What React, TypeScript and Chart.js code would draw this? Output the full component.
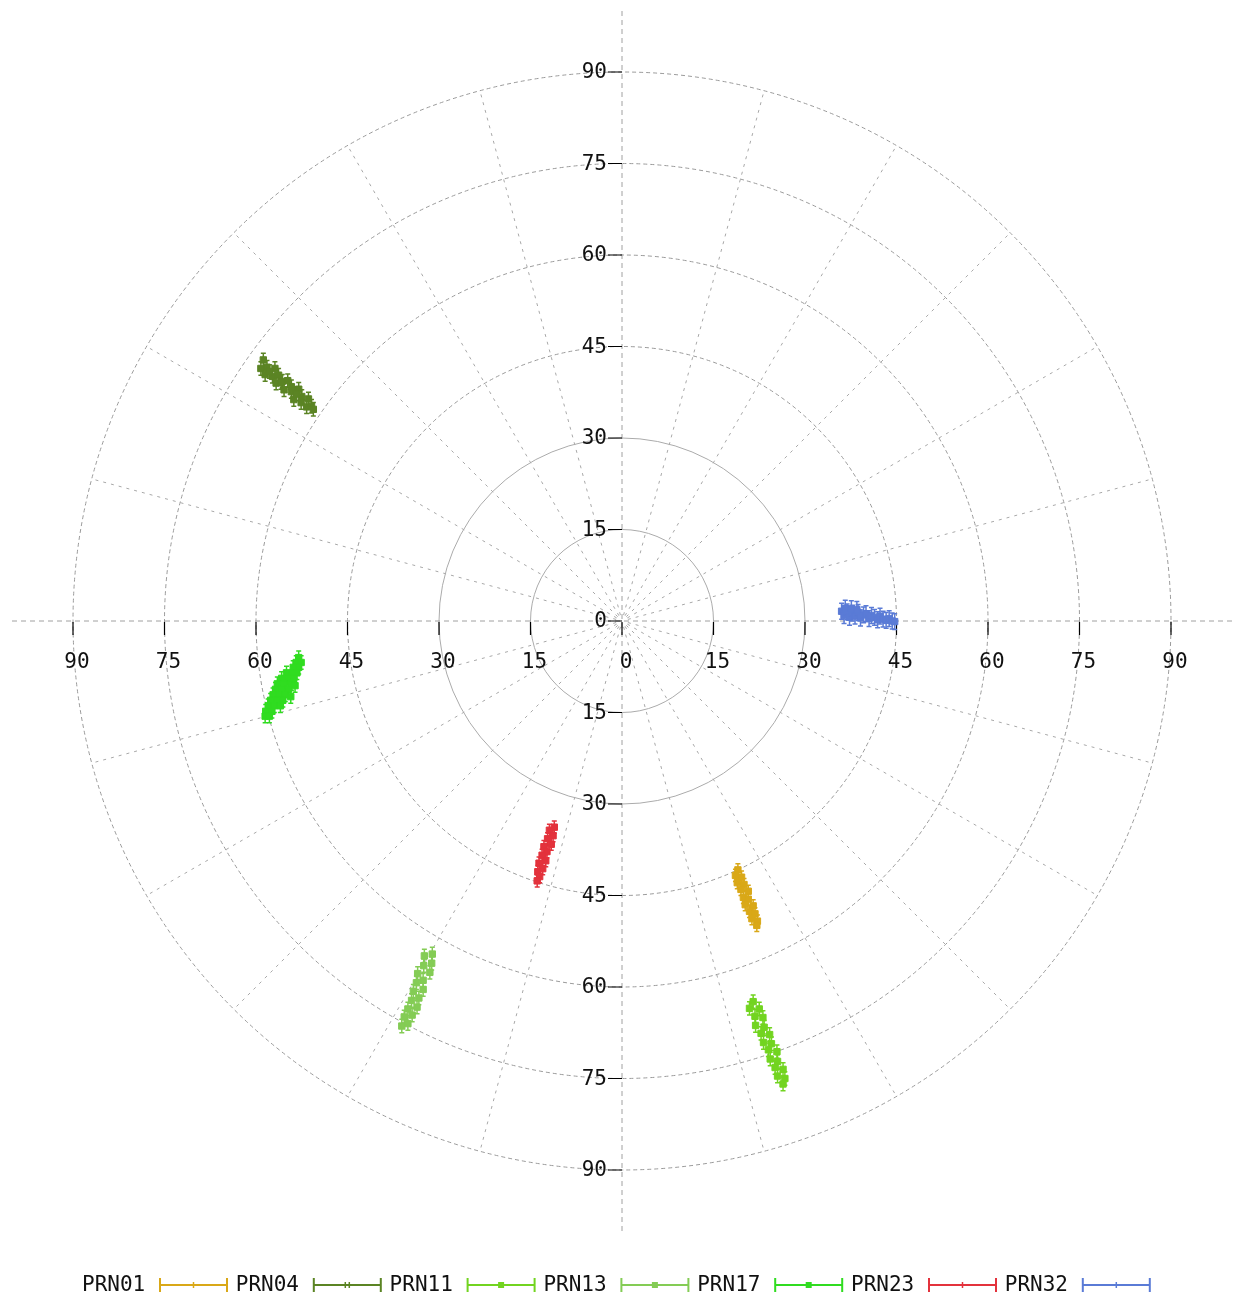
import React, { useEffect, useRef } from "react";
import { Chart, registerables } from "chart.js";

Chart.register(...registerables);

// ---- series meta ----
const seriesNames = ["PRN01", "PRN04", "PRN11", "PRN13", "PRN17", "PRN23", "PRN32"];
const seriesColors = ["#d9a818", "#5b8424", "#72d420", "#84cc55", "#30dc20", "#e3323c", "#5a7bd6"];
const seriesErr = [1.0, 1.1, 1.1, 1.1, 1.1, 1.0, 1.3];
const legendMarks = ["tick", "dtick", "square", "square", "square", "tick", "tick"];

// ---- data (x = east/west, y = north/south, in plot units) ----
const prn01X = [19.0, 18.6, 19.6, 18.9, 20.0, 19.5, 20.7, 19.9, 20.7, 20.2, 21.5, 20.9, 21.8, 21.3, 22.2, 22.1];
const prn01Y = [-40.8, -41.7, -42.0, -42.9, -43.2, -44.0, -44.3, -45.3, -45.6, -46.5, -46.7, -47.6, -48.0, -48.8, -49.2, -49.9];

const prn04X = [-58.8, -59.2, -58.2, -58.5, -56.9, -57.3, -56.3, -56.7, -55.7, -54.8, -55.4, -54.2, -54.2, -53.0, -53.8, -52.5, -52.6, -51.4, -51.7, -50.9, -50.6, -57.8, -55.9, -53.4];
const prn04Y = [42.8, 41.4, 41.6, 40.4, 41.4, 40.1, 40.3, 39.0, 39.3, 39.4, 37.9, 38.4, 37.6, 38.0, 36.3, 36.8, 35.8, 36.4, 35.1, 35.2, 34.7, 40.9, 39.1, 37.2];

const prn11X = [21.5, 20.9, 22.5, 21.8, 23.1, 21.9, 23.3, 22.8, 24.2, 23.2, 24.5, 24.0, 25.4, 24.3, 25.5, 25.1, 26.4, 25.5, 26.7, 26.4];
const prn11Y = [-62.4, -63.5, -63.6, -64.8, -65.0, -66.3, -66.6, -67.6, -67.8, -69.1, -69.3, -70.3, -70.6, -71.8, -72.2, -73.2, -73.5, -74.6, -75.0, -75.9];

const prn13X = [-31.1, -32.4, -31.2, -32.5, -31.5, -33.5, -32.6, -33.7, -32.6, -34.2, -33.3, -34.5, -33.6, -35.1, -34.4, -35.7, -35.1, -36.1];
const prn13Y = [-54.6, -54.9, -56.1, -56.5, -57.6, -57.8, -58.9, -59.3, -60.4, -60.7, -61.8, -62.2, -63.3, -63.6, -64.6, -64.9, -66.0, -66.4];

const prn17X = [-53.0, -53.4, -52.6, -53.9, -53.0, -55.0, -54.0, -53.3, -55.8, -54.8, -53.8, -56.5, -55.4, -54.2, -56.8, -55.8, -54.7, -57.2, -56.2, -55.2, -57.6, -56.6, -55.6, -58.0, -57.0, -56.0, -58.4, -57.4, -58.5, -57.8, -53.6, -54.3];
const prn17Y = [-6.0, -6.8, -6.8, -7.6, -7.6, -8.5, -8.5, -8.5, -9.4, -9.4, -9.4, -10.3, -10.3, -10.3, -11.2, -11.2, -11.2, -12.1, -12.1, -12.1, -13.0, -13.0, -13.0, -13.9, -13.9, -13.9, -14.8, -14.8, -15.6, -15.6, -10.6, -12.4];

const prn23X = [-11.1, -11.9, -11.3, -12.2, -11.6, -12.8, -12.3, -13.1, -12.5, -13.6, -13.0, -13.8, -13.5, -13.9];
const prn23Y = [-33.8, -34.3, -35.2, -35.7, -36.6, -37.0, -37.8, -38.4, -39.3, -39.7, -40.6, -41.1, -41.9, -42.6];

const prn32X = [36.0, 36.4, 36.9, 37.3, 37.8, 38.2, 38.7, 39.1, 39.6, 40.0, 40.5, 40.9, 41.4, 41.9, 42.3, 42.8, 43.3, 43.8, 44.3, 44.7, 36.6, 37.6, 38.5];
const prn32Y = [1.6, 0.9, 1.5, 0.6, 1.3, 0.8, 1.4, 0.5, 1.0, 1.2, 0.4, 0.9, 0.6, 0.2, 0.8, 0.3, 0.1, 0.4, 0.0, -0.1, 2.1, 2.0, 1.9];

const seriesX = [prn01X, prn04X, prn11X, prn13X, prn17X, prn23X, prn32X];
const seriesY = [prn01Y, prn04Y, prn11Y, prn13Y, prn17Y, prn23Y, prn32Y];

// ---- grid / ticks ----
const ringValues = [15, 30, 45, 60, 75, 90];
const axisTickValues = [-90, -75, -60, -45, -30, -15, 0, 15, 30, 45, 60, 75, 90];
const axisTickLabels = ["90", "75", "60", "45", "30", "15", "0", "15", "30", "45", "60", "75", "90"];
const spokeAngles = [15, 30, 45, 60, 75, 105, 120, 135, 150, 165, 195, 210, 225, 240, 255, 285, 300, 315, 330, 345];

const FONT = "21px 'DejaVu Sans Mono'";

const polarPlugin = {
  id: "polarPlugin",
  beforeDatasetsDraw(chart: any) {
    const { ctx, chartArea } = chart;
    const xs = chart.scales.x;
    const ys = chart.scales.y;
    const cx = xs.getPixelForValue(0);
    const cy = ys.getPixelForValue(0);
    const rpx = (v: number) => xs.getPixelForValue(v) - cx;
    const rMax = rpx(ringValues[ringValues.length - 1]);
    ctx.save();

    // spokes
    ctx.strokeStyle = "#a8a8a8";
    ctx.lineWidth = 1;
    ctx.setLineDash([3, 5]);
    spokeAngles.forEach((a) => {
      const t = (a * Math.PI) / 180;
      const r0 = rpx(1);
      ctx.beginPath();
      ctx.moveTo(cx + r0 * Math.cos(t), cy - r0 * Math.sin(t));
      ctx.lineTo(cx + rMax * Math.cos(t), cy - rMax * Math.sin(t));
      ctx.stroke();
    });

    // rings
    ringValues.forEach((v) => {
      ctx.strokeStyle = v <= 30 ? "#ababab" : "#9a9a9a";
      ctx.setLineDash(v <= 30 ? [] : [4, 3]);
      ctx.beginPath();
      ctx.arc(cx, cy, rpx(v), 0, Math.PI * 2);
      ctx.stroke();
    });

    // axes
    ctx.strokeStyle = "#a0a0a0";
    ctx.setLineDash([5, 4]);
    ctx.beginPath();
    ctx.moveTo(chartArea.left, cy);
    ctx.lineTo(chartArea.right, cy);
    ctx.moveTo(cx, chartArea.top);
    ctx.lineTo(cx, chartArea.bottom);
    ctx.stroke();

    // ticks
    ctx.setLineDash([]);
    ctx.strokeStyle = "#000";
    ctx.lineWidth = 1.2;
    axisTickValues.forEach((v) => {
      const px = xs.getPixelForValue(v);
      const py = ys.getPixelForValue(v);
      ctx.beginPath();
      ctx.moveTo(px, cy + 1);
      ctx.lineTo(px, cy + 14);
      ctx.moveTo(cx - 14, py);
      ctx.lineTo(cx, py);
      ctx.stroke();
    });

    // tick labels
    ctx.font = FONT;
    ctx.fillStyle = "#111";
    ctx.textBaseline = "middle";
    axisTickValues.forEach((v, i) => {
      const px = xs.getPixelForValue(v);
      const py = ys.getPixelForValue(-v);
      ctx.textAlign = "center";
      ctx.fillText(axisTickLabels[i], px + 4, cy + 42);
      ctx.textAlign = "right";
      ctx.fillText(axisTickLabels[i], cx - 15, py + 1);
    });

    // error bars
    chart.data.datasets.forEach((ds: any, i: number) => {
      ctx.strokeStyle = seriesColors[i];
      ctx.lineWidth = 1.5;
      const e = seriesErr[i];
      ds.data.forEach((p: any) => {
        const px = xs.getPixelForValue(p.x);
        const pt = ys.getPixelForValue(p.y + e);
        const pb = ys.getPixelForValue(p.y - e);
        ctx.beginPath();
        ctx.moveTo(px, pt);
        ctx.lineTo(px, pb);
        ctx.moveTo(px - 2.5, pt);
        ctx.lineTo(px + 2.5, pt);
        ctx.moveTo(px - 2.5, pb);
        ctx.lineTo(px + 2.5, pb);
        ctx.stroke();
      });
    });
    ctx.restore();
  },
  afterDraw(chart: any) {
    const { ctx } = chart;
    const yMid = 1285;
    ctx.save();
    ctx.font = FONT;
    ctx.textBaseline = "middle";
    ctx.textAlign = "left";
    seriesNames.forEach((name, i) => {
      const x0 = 82 + i * 153.8;
      ctx.fillStyle = "#111";
      ctx.fillText(name, x0, yMid + 1);
      const l1 = x0 + 78;
      const l2 = x0 + 145;
      const mid = (l1 + l2) / 2;
      ctx.strokeStyle = seriesColors[i];
      ctx.fillStyle = seriesColors[i];
      ctx.lineWidth = 2;
      ctx.beginPath();
      ctx.moveTo(l1, yMid);
      ctx.lineTo(l2, yMid);
      ctx.moveTo(l1, yMid - 7);
      ctx.lineTo(l1, yMid + 7);
      ctx.moveTo(l2, yMid - 7);
      ctx.lineTo(l2, yMid + 7);
      ctx.stroke();
      const m = legendMarks[i];
      ctx.lineWidth = 1.5;
      if (m === "square") {
        ctx.fillRect(mid - 3, yMid - 3, 6, 6);
      } else if (m === "dtick") {
        ctx.beginPath();
        ctx.moveTo(mid - 2, yMid - 3);
        ctx.lineTo(mid - 2, yMid + 3);
        ctx.moveTo(mid + 2, yMid - 3);
        ctx.lineTo(mid + 2, yMid + 3);
        ctx.stroke();
      } else {
        ctx.beginPath();
        ctx.moveTo(mid, yMid - 3);
        ctx.lineTo(mid, yMid + 3);
        ctx.stroke();
      }
    });
    ctx.restore();
  },
};

export default function App() {
  const canvasRef = useRef<HTMLCanvasElement | null>(null);

  useEffect(() => {
    if (!canvasRef.current) return;
    const datasets = seriesNames.map((name, i) => ({
      label: name,
      data: seriesX[i].map((v, k) => ({ x: v, y: seriesY[i][k] })),
      backgroundColor: seriesColors[i],
      borderColor: seriesColors[i],
      pointStyle: "rect" as const,
      pointRadius: 4.5,
      borderWidth: 1,
      showLine: false,
    }));
    const chart = new Chart(canvasRef.current, {
      type: "scatter",
      data: { datasets },
      options: {
        responsive: false,
        animation: false,
        events: [],
        layout: { padding: { left: 12, right: 7, top: 11, bottom: 72 } },
        plugins: { legend: { display: false }, tooltip: { enabled: false } },
        scales: {
          x: { type: "linear", min: -100, max: 100, display: false },
          y: { type: "linear", min: -100, max: 100, display: false },
        },
      },
      plugins: [polarPlugin],
    });
    return () => chart.destroy();
  }, []);

  return (
    <div style={{ position: "absolute", left: 0, top: 0, width: 1239, height: 1303, background: "#fff" }}>
      <canvas ref={canvasRef} width={1239} height={1303} style={{ width: 1239, height: 1303 }} />
    </div>
  );
}
